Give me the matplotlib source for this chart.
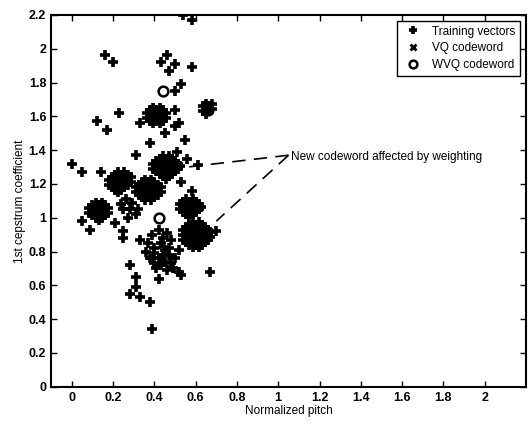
import matplotlib.pyplot as plt

plt.rcParams['font.family'] = ['Liberation Sans', 'DejaVu Sans']

# dense groups of training vectors, one (y, [x, ...]) row at a time
group_a = [(1.365, [0.44, 0.47]), (1.35, [0.425, 0.455, 0.485]),
           (1.335, [0.41, 0.44, 0.47, 0.50]), (1.32, [0.395, 0.425, 0.455, 0.485, 0.515]),
           (1.305, [0.41, 0.44, 0.47, 0.50, 0.525]), (1.29, [0.395, 0.425, 0.455, 0.485, 0.515]),
           (1.275, [0.41, 0.44, 0.47, 0.50]), (1.26, [0.425, 0.455, 0.485]),
           (1.245, [0.44, 0.47]), (1.23, [0.455])]
group_b = [(0.975, [0.585, 0.615]), (0.96, [0.57, 0.60, 0.63]),
           (0.945, [0.555, 0.585, 0.615, 0.645]), (0.93, [0.54, 0.57, 0.60, 0.63, 0.66]),
           (0.915, [0.555, 0.585, 0.615, 0.645, 0.67]), (0.90, [0.54, 0.57, 0.60, 0.63, 0.66]),
           (0.885, [0.555, 0.585, 0.615, 0.645, 0.67]), (0.87, [0.54, 0.57, 0.60, 0.63, 0.66]),
           (0.855, [0.555, 0.585, 0.615, 0.645]), (0.84, [0.57, 0.60, 0.63]),
           (0.825, [0.585, 0.615])]
group_c = [(1.27, [0.225, 0.255]), (1.255, [0.21, 0.24, 0.27]),
           (1.24, [0.195, 0.225, 0.255, 0.285]), (1.225, [0.18, 0.21, 0.24, 0.27]),
           (1.21, [0.195, 0.225, 0.255, 0.285]), (1.195, [0.18, 0.21, 0.24, 0.27]),
           (1.18, [0.195, 0.225, 0.255]), (1.165, [0.21, 0.24]), (1.15, [0.225])]
group_d = [(1.225, [0.355, 0.385]), (1.21, [0.34, 0.37, 0.40]),
           (1.195, [0.325, 0.355, 0.385, 0.415]), (1.18, [0.31, 0.34, 0.37, 0.40, 0.43]),
           (1.165, [0.325, 0.355, 0.385, 0.415]), (1.15, [0.31, 0.34, 0.37, 0.40, 0.43]),
           (1.135, [0.325, 0.355, 0.385, 0.415]), (1.12, [0.34, 0.37, 0.40]),
           (1.105, [0.355, 0.385])]
group_e = [(1.09, [0.115, 0.145]), (1.075, [0.10, 0.13, 0.16]),
           (1.06, [0.085, 0.115, 0.145, 0.175]), (1.045, [0.10, 0.13, 0.16]),
           (1.03, [0.085, 0.115, 0.145, 0.175]), (1.015, [0.10, 0.13, 0.16]),
           (1.00, [0.115, 0.145]), (0.985, [0.13])]
group_f = [(1.11, [0.555, 0.585]), (1.095, [0.54, 0.57, 0.60]),
           (1.08, [0.525, 0.555, 0.585, 0.615]), (1.065, [0.54, 0.57, 0.60, 0.625]),
           (1.05, [0.525, 0.555, 0.585, 0.615]), (1.035, [0.54, 0.57, 0.60]),
           (1.02, [0.555, 0.585]), (1.005, [0.57])]
group_h = [(1.65, [0.395, 0.425]), (1.635, [0.38, 0.41, 0.44]),
           (1.62, [0.365, 0.395, 0.425, 0.455]), (1.605, [0.38, 0.41, 0.44]),
           (1.59, [0.365, 0.395, 0.425, 0.455]), (1.575, [0.38, 0.41, 0.44]),
           (1.56, [0.395, 0.425])]
group_i = [(1.675, [0.65, 0.68]), (1.66, [0.635, 0.665]), (1.645, [0.65, 0.68]),
           (1.63, [0.635, 0.665]), (1.615, [0.65])]

# looser training vectors
loose_x = [
    # around (0.43, 0.84)
    0.37, 0.39, 0.42, 0.46, 0.48, 0.47, 0.44, 0.40, 0.43, 0.36, 0.38, 0.45, 0.50, 0.49, 0.52, 0.46, 0.41, 0.39,
    0.40, 0.44, 0.47, 0.42, 0.45, 0.48, 0.43,
    # around (0.26, 1.08)
    0.24, 0.26, 0.29, 0.28, 0.25,
    # scattered
    0.16, 0.20, 0.46, 0.43, 0.50, 0.47, 0.58, 0.53, 0.50, 0.50, 0.23, 0.12, 0.17,
    0.33, 0.52, 0.50, 0.45, 0.38, 0.55, 0.31, 0.51, 0.56, 0.61, 0.00, 0.05, 0.14,
    0.54, 0.58, 0.05, 0.09, 0.21, 0.25, 0.25, 0.33, 0.70, 0.28, 0.31, 0.31, 0.28,
    0.33, 0.38, 0.39, 0.67, 0.53, 0.42, 0.40, 0.53, 0.58, 0.52, 0.32, 0.27, 0.31,
]
loose_y = [
    0.85, 0.90, 0.93, 0.91, 0.87, 0.82, 0.78, 0.79, 0.85, 0.80, 0.76, 0.74, 0.76, 0.70, 0.68, 0.69, 0.70, 0.76,
    0.82, 0.88, 0.78, 0.76, 0.81, 0.73, 0.72,
    1.08, 1.11, 1.09, 1.05, 1.05,
    1.96, 1.92, 1.96, 1.92, 1.91, 1.87, 1.89, 1.79, 1.75, 1.64, 1.62, 1.57, 1.52,
    1.56, 1.56, 1.54, 1.50, 1.44, 1.46, 1.37, 1.39, 1.35, 1.31, 1.32, 1.27, 1.27,
    2.20, 2.17, 0.98, 0.93, 0.97, 0.92, 0.88, 0.87, 0.92, 0.72, 0.65, 0.59, 0.55,
    0.53, 0.50, 0.34, 0.68, 0.66, 0.64, 0.73, 1.21, 1.16, 0.81, 1.05, 1.00, 1.02,
]

# codewords
vq_x = [0.45, 0.60, 0.23, 0.36, 0.13, 0.57, 0.43, 0.41, 0.66]
vq_y = [1.30, 0.90, 1.20, 1.16, 1.05, 1.06, 0.84, 1.60, 1.65]
wvq_x = [0.44, 0.42, 0.66, 0.46, 0.61]
wvq_y = [1.75, 1.00, 1.64, 1.29, 0.90]

train_x = list(loose_x)
train_y = list(loose_y)
for group in [group_a, group_b, group_c, group_d, group_e, group_f, group_h, group_i]:
    for y, xs in group:
        train_x += xs
        train_y += [y] * len(xs)

fig = plt.figure(figsize=(5.28, 4.26), dpi=100)
ax = fig.add_axes([0.097, 0.092, 0.899, 0.873])

ax.plot(train_x, train_y, '+', color='black', markersize=7.5, mew=2.6, label='Training vectors')
ax.plot(vq_x, vq_y, 'x', color='black', markersize=5, mew=2, label='VQ codeword')
ax.plot(wvq_x, wvq_y, 'o', color='black', markersize=7, mew=1.8, mfc='none', label='WVQ codeword')

# pointers from the note to the two shifted codewords
ax.plot([1.05, 0.56], [1.37, 1.30], color='black', lw=1.2, dashes=(8, 5))
ax.plot([1.05, 0.70], [1.37, 0.98], color='black', lw=1.2, dashes=(8, 5))
ax.text(1.06, 1.36, 'New codeword affected by weighting', fontsize=8.5, va='center')

ax.set_xlim(-0.1, 2.2)
ax.set_ylim(0, 2.2)
ax.set_xticks([0, 0.2, 0.4, 0.6, 0.8, 1, 1.2, 1.4, 1.6, 1.8, 2])
ax.set_xticklabels(['0', '0.2', '0.4', '0.6', '0.8', '1', '1.2', '1.4', '1.6', '1.8', '2'])
ax.set_yticks([0, 0.2, 0.4, 0.6, 0.8, 1, 1.2, 1.4, 1.6, 1.8, 2, 2.2])
ax.set_yticklabels(['0', '0.2', '0.4', '0.6', '0.8', '1', '1.2', '1.4', '1.6', '1.8', '2', '2.2'])
ax.tick_params(direction='in', top=True, right=True, length=4, width=1, labelsize=9)
for lbl in ax.get_xticklabels() + ax.get_yticklabels():
    lbl.set_fontweight('bold')
for s in ax.spines.values():
    s.set_linewidth(1.5)

ax.set_xlabel('Normalized pitch', fontsize=8.5, labelpad=1)
ax.set_ylabel('1st cepstrum coefficient', fontsize=8.5, labelpad=2)

leg = ax.legend(loc='upper right', fontsize=8.5, fancybox=False, edgecolor='black',
                framealpha=1, borderaxespad=0.5, handletextpad=0.6, labelspacing=0.4,
                markerscale=0.8)
leg.get_frame().set_linewidth(1)

plt.savefig('out.png', dpi=100)
